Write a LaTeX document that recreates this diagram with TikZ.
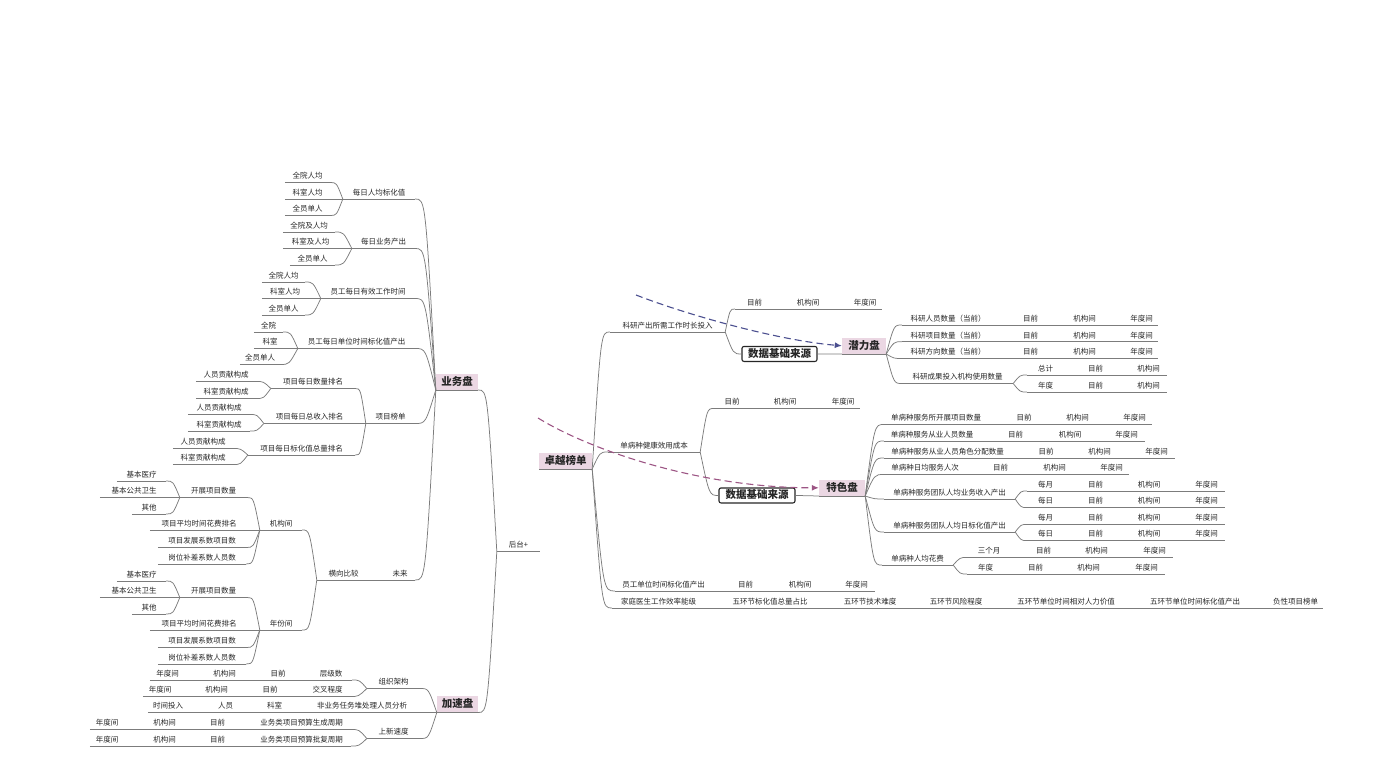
\documentclass[tikz,border=0pt]{standalone}
\usepackage{fontspec}
\newfontfamily\cjk{Noto Sans CJK SC}
\usetikzlibrary{calc,arrows.meta}
\definecolor{lnc}{HTML}{7C7C7C}
\definecolor{txt}{HTML}{262626}
\definecolor{pinkc}{HTML}{EBD7E3}
\definecolor{dblue}{HTML}{4B4F8F}
\definecolor{dmauve}{HTML}{9C5584}
\tikzset{
  lk/.style={draw=lnc, line width=0.75pt},
  ul/.style={append after command={(\tikzlastnode.south west) edge[lk] (\tikzlastnode.south east)}},
  lbl/.style={font=\cjk\fontsize{7.5}{8}\selectfont, text=txt, inner xsep=0pt, inner ysep=2.5pt,
    text height=5.6pt, text depth=1pt, anchor=south, ul},
  pan/.style={fill=pinkc, font=\cjk\bfseries\fontsize{10.5}{12}\selectfont, text=black!85,
    inner xsep=0pt, inner ysep=2.5pt, text height=9pt, text depth=2pt, anchor=south, ul},
  dsb/.style={draw=black!85, line width=1.1pt, rounded corners=2pt, fill=white,
    font=\cjk\bfseries\fontsize{10.5}{12}\selectfont, text=black!85,
    inner xsep=0pt, inner ysep=2pt, text height=9pt, text depth=2pt, anchor=south},
  dar1/.style={draw=dblue, line width=1.1pt, dash pattern=on 7pt off 4pt, -{Latex[length=7pt,width=6pt]}},
  dar2/.style={draw=dmauve, line width=1.1pt, dash pattern=on 7pt off 4pt, -{Latex[length=7pt,width=6pt]}},
}
\newcommand\Nd[5]{\node[lbl, minimum width={#3-#2}] (#1) at ({(#2+#3)/2},#4) {#5};}
\newcommand\Bx[5]{\node[pan, minimum width={#3-#2}] (#1) at ({(#2+#3)/2},#4) {#5};}
\newcommand\Lk[2]{\draw[lk] let \p1=(#1), \p2=(#2) in (\p1) .. controls ({0.5*\x1+0.5*\x2},\y1) .. (\p2);}
\newcommand\Row[3]{%
  \foreach \xa/\xb/\tx [count=\ii] in {#3}{%
    \Nd{#1-\ii}{\xa}{\xb}{#2}{\tx}%
    \ifnum\ii>1 \pgfmathtruncatemacro\jj{\ii-1}\draw[lk] (#1-\jj.south east) -- (#1-\ii.south west);\fi
  }}
\begin{document}
\begin{tikzpicture}[x=1pt,y=-1pt]
\useasboundingbox (0,0) rectangle (1373,773);

% ===== left tree =====
\Nd{ht}{497}{540}{551.5}{后台+}
\Bx{ywp}{436}{478}{390}{业务盘}
\Bx{jsp}{437}{478}{712.5}{加速盘}
\Lk{ywp.south east}{ht.south west}
\Lk{jsp.south east}{ht.south west}

\Nd{a}{343}{415}{199}{每日人均标化值}
\Nd{a1}{285}{330}{182.5}{全院人均}
\Nd{a2}{285}{330}{199}{科室人均}
\Nd{a3}{285}{330}{215.5}{全员单人}
\Lk{a.south east}{ywp.south west}
\foreach \c in {a1,a2,a3}{\Lk{\c.south east}{a.south west}}

\Nd{b}{352}{415}{248.5}{每日业务产出}
\Nd{b1}{283}{335}{232}{全院及人均}
\Nd{b2}{283}{338}{248.5}{科室及人均}
\Nd{b3}{290}{335}{265}{全员单人}
\Lk{b.south east}{ywp.south west}
\foreach \c in {b1,b2,b3}{\Lk{\c.south east}{b.south west}}

\Nd{c}{321}{415}{298.5}{员工每日有效工作时间}
\Nd{c1}{262}{305}{282}{全院人均}
\Nd{c2}{262}{308}{298.5}{科室人均}
\Nd{c3}{262}{305}{315}{全员单人}
\Lk{c.south east}{ywp.south west}
\foreach \c in {c1,c2,c3}{\Lk{\c.south east}{c.south west}}

\Nd{d}{298}{415}{348.5}{员工每日单位时间标化值产出}
\Nd{d1}{254}{283}{332}{全院}
\Nd{d2}{254}{286}{348.5}{科室}
\Nd{d3}{240}{280}{364.5}{全员单人}
\Lk{d.south east}{ywp.south west}
\foreach \c in {d1,d2,d3}{\Lk{\c.south east}{d.south west}}

\Nd{e}{366}{415}{423.5}{项目榜单}
\Lk{e.south east}{ywp.south west}
\Nd{e1}{271}{355}{388.5}{项目每日数量排名}
\Nd{e11}{196}{256}{381.5}{人员贡献构成}
\Nd{e12}{196}{256}{398.5}{科室贡献构成}
\Nd{e2}{264}{355}{423.5}{项目每日总收入排名}
\Nd{e21}{188}{250}{414.5}{人员贡献构成}
\Nd{e22}{188}{250}{431}{科室贡献构成}
\Nd{e3}{248}{355}{455}{项目每日标化值总量排名}
\Nd{e31}{173}{233}{448.5}{人员贡献构成}
\Nd{e32}{173}{233}{464.5}{科室贡献构成}
\foreach \c in {e1,e2,e3}{\Lk{\c.south east}{e.south west}}
\foreach \c in {e11,e12}{\Lk{\c.south east}{e1.south west}}
\foreach \c in {e21,e22}{\Lk{\c.south east}{e2.south west}}
\foreach \c in {e31,e32}{\Lk{\c.south east}{e3.south west}}

\Nd{f}{385}{415}{580}{未来}
\Lk{f.south east}{ywp.south west}
\Nd{g}{317}{370}{580}{横向比较}
\Lk{g.south east}{f.south west}
\Nd{h1}{260}{302}{530}{机构间}
\Nd{h2}{260}{302}{630}{年份间}
\Lk{h1.south east}{g.south west}
\Lk{h2.south east}{g.south west}
\foreach \h/\o in {1/0,2/100}{
  \Nd{i\h1}{180}{247}{497.5+\o}{开展项目数量}
  \Nd{i\h2}{150}{248}{530+\o}{项目平均时间花费排名}
  \Nd{i\h3}{158}{246}{547.5+\o}{项目发展系数项目数}
  \Nd{i\h4}{158}{246}{564+\o}{岗位补差系数人员数}
  \Nd{j\h1}{117}{166}{481+\o}{基本医疗}
  \Nd{j\h2}{100}{168}{497.5+\o}{基本公共卫生}
  \Nd{j\h3}{132}{166}{514+\o}{其他}
  \foreach \k in {1,2,3,4}{\Lk{i\h\k.south east}{h\h.south west}}
  \foreach \k in {1,2,3}{\Lk{j\h\k.south east}{i\h1.south west}}
}

\Nd{k}{367}{420}{688.5}{组织架构}
\Nd{l}{367}{420}{738.5}{上新速度}
\Lk{k.south east}{jsp.south west}
\Lk{l.south east}{jsp.south west}
\Row{r1}{680}{150/185/年度间, 207/242/机构间, 265/291/目前, 310/352/层级数}
\Row{r2}{696.5}{143/177/年度间, 199/234/机构间, 257/283/目前, 305/350/交叉程度}
\Row{r3}{712.5}{148/188/时间投入, 210/241/人员, 259/290/科室, 308/416/非业务任务堆处理人员分析}
\Row{r4}{729.5}{90/124/年度间, 147/182/机构间, 204/231/目前, 252/351/业务类项目预算生成周期}
\Row{r5}{746}{90/124/年度间, 147/182/机构间, 204/231/目前, 252/351/业务类项目预算批复周期}
\Lk{r1-4.south east}{k.south west}
\Lk{r2-4.south east}{k.south west}
\Lk{r3-4.south east}{jsp.south west}
\Lk{r4-4.south east}{l.south west}
\Lk{r5-4.south east}{l.south west}

% ===== right tree =====
\Bx{zy}{539}{592}{469}{卓越榜单}

\Nd{m}{610}{725}{332}{科研产出所需工作时长投入}
\Lk{m.south west}{zy.south east}
\Row{s}{309}{735/774/目前, 788/828/机构间, 848/882/年度间}
\Lk{s-1.south west}{m.south east}
\node[dsb, minimum width=75] (ds1) at (779.5,362) {数据基础来源};
\Lk{ds1.west}{m.south east}
\Bx{ql}{842}{886}{354}{潜力盘}
\draw[lk] (ds1.east) -- (ql.south west);
\Row{t1}{325}{902/994/科研人员数量（当前）, 1012/1049/目前, 1065/1104/机构间, 1125/1158/年度间}
\Row{t2}{341.7}{902/994/科研项目数量（当前）, 1012/1049/目前, 1065/1104/机构间, 1125/1158/年度间}
\Row{t3}{358.5}{902/994/科研方向数量（当前）, 1012/1049/目前, 1065/1104/机构间, 1125/1158/年度间}
\Nd{t4}{902}{1013}{383.5}{科研成果投入机构使用数量}
\foreach \c in {t1-1,t2-1,t3-1,t4}{\Lk{\c.south west}{ql.south east}}
\Row{u1}{375}{1027/1064/总计, 1078/1113/目前, 1130/1167/机构间}
\Row{u2}{392}{1027/1064/年度, 1078/1113/目前, 1130/1167/机构间}
\Lk{u1-1.south west}{t4.south east}
\Lk{u2-1.south west}{t4.south east}

\Nd{n}{608}{700}{452}{单病种健康效用成本}
\Lk{n.south west}{zy.south east}
\Row{v}{408.5}{714/750/目前, 766/804/机构间, 826/860/年度间}
\Lk{v-1.south west}{n.south east}
\node[dsb, minimum width=76] (ds2) at (757,503.5) {数据基础来源};
\Lk{ds2.west}{n.south east}
\Bx{ts}{819}{865}{496}{特色盘}
\draw[lk] (ds2.east) -- (ts.south west);

\Row{w1}{424.5}{884/988/单病种服务所开展项目数量, 1006/1042/目前, 1058/1097/机构间, 1117/1152/年度间}
\Row{w2}{441}{884/980/单病种服务从业人员数量, 998/1033/目前, 1050/1090/机构间, 1108/1145/年度间}
\Row{w3}{458}{884/1011/单病种服务从业人员角色分配数量, 1028/1064/目前, 1080/1119/机构间, 1138/1175/年度间}
\Row{w4}{474.5}{884/966/单病种日均服务人次, 983/1018/目前, 1035/1074/机构间, 1094/1129/年度间}
\Nd{w5}{884}{1015}{499}{单病种服务团队人均业务收入产出}
\Nd{w6}{884}{1015}{532}{单病种服务团队人均日标化值产出}
\Nd{w7}{882}{953}{565}{单病种人均花费}
\foreach \c in {w1-1,w2-1,w3-1,w4-1,w5,w6,w7}{\Lk{\c.south west}{ts.south east}}
\Row{x1}{491}{1027/1064/每月, 1078/1113/目前, 1130/1168/机构间, 1188/1225/年度间}
\Row{x2}{507.5}{1027/1064/每日, 1078/1113/目前, 1130/1168/机构间, 1188/1225/年度间}
\Row{x3}{524.5}{1027/1064/每月, 1078/1113/目前, 1130/1168/机构间, 1188/1225/年度间}
\Row{x4}{540.5}{1027/1064/每日, 1078/1113/目前, 1130/1168/机构间, 1188/1225/年度间}
\Lk{x1-1.south west}{w5.south east}
\Lk{x2-1.south west}{w5.south east}
\Lk{x3-1.south west}{w6.south east}
\Lk{x4-1.south west}{w6.south east}
\Row{y1}{557.5}{967/1011/三个月, 1026/1061/目前, 1077/1116/机构间, 1136/1173/年度间}
\Row{y2}{574}{967/1004/年度, 1018/1053/目前, 1069/1108/机构间, 1128/1165/年度间}
\Lk{y1-1.south west}{w7.south east}
\Lk{y2-1.south west}{w7.south east}

\Row{po}{591}{615/712/员工单位时间标化值产出, 727/764/目前, 781/819/机构间, 838/875/年度间}
\Lk{po-1.south west}{zy.south east}
\Row{pf}{608}{612/705/家庭医生工作效率能级, 725/815/五环节标化值总量占比, 835/905/五环节技术难度, 922/990/五环节风险程度, 1010/1122/五环节单位时间相对人力价值, 1143/1247/五环节单位时间标化值产出, 1268/1323/负性项目榜单}
\Lk{pf-1.south west}{zy.south east}

% ===== dashed arrows =====
\coordinate (da) at (636,295);
\coordinate (db) at (538,418);
\draw[dar1] (da) .. controls (685,314) and (775,340) .. (ql.west);
\draw[dar2] (db) .. controls (590,450) and (700,488) .. (ts.west);
\end{tikzpicture}
\end{document}
